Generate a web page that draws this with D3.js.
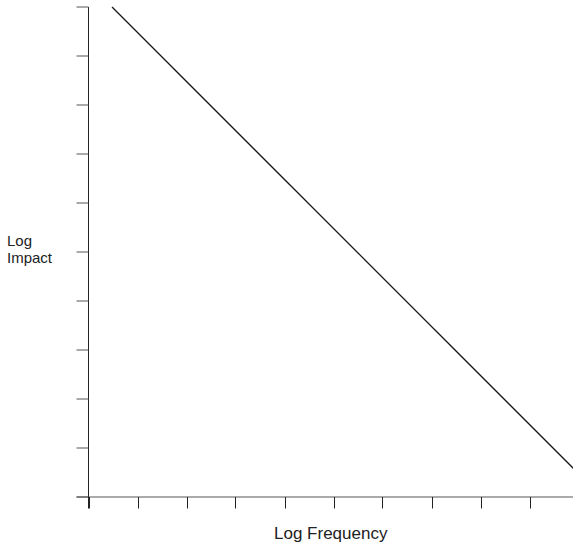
<!DOCTYPE html>
<html>
<head>
<meta charset="utf-8">
<script src="https://cdn.jsdelivr.net/npm/d3@7"></script>
<style>
  html, body { margin: 0; padding: 0; background: #fff; }
  svg { display: block; }
  text { font-family: "Liberation Sans", Arial, Helvetica, sans-serif; fill: #222; }
</style>
</head>
<body>
<svg id="chart" width="573" height="547"></svg>
<script>
// Axis tick positions (unlabelled, log units)
const xTicks = [0, 1, 2, 3, 4, 5, 6, 7, 8, 9, 10];
const yTicks = [0, 1, 2, 3, 4, 5, 6, 7, 8, 9, 10];

// Power-law relation: log impact falls as log frequency rises
const lineX = [0.48, 10.0];
const lineY = [10.0, 0.48];

const xTitle = "Log Frequency";
const yTitle = ["Log", "Impact"];

const svg = d3.select("#chart");

const x = d3.scaleLinear().domain([0, 10]).range([88.5, 578.5]);
const y = d3.scaleLinear().domain([0, 10]).range([497, 7]);

// x axis: grey baseline, dark ticks pointing down
svg.append("line")
  .attr("x1", x(0) - 12).attr("x2", 573)
  .attr("y1", y(0)).attr("y2", y(0))
  .attr("stroke", "#555").attr("stroke-width", 1);
svg.append("g").selectAll("line").data(xTicks).join("line")
  .attr("x1", d => Math.round(x(d)) + 0.5).attr("x2", d => Math.round(x(d)) + 0.5)
  .attr("y1", y(0)).attr("y2", y(0) + 11.5)
  .attr("stroke", "#222").attr("stroke-width", 1);

// y axis: dark spine, grey ticks pointing left
svg.append("line")
  .attr("x1", x(0)).attr("x2", x(0))
  .attr("y1", y(10)).attr("y2", y(0) + 11.5)
  .attr("stroke", "#222").attr("stroke-width", 1);
svg.append("g").selectAll("line").data(yTicks).join("line")
  .attr("x1", x(0) - 12).attr("x2", x(0))
  .attr("y1", d => y(d)).attr("y2", d => y(d))
  .attr("stroke", "#555").attr("stroke-width", 1);

// the trend line
svg.append("path")
  .datum(lineX.map((v, i) => [v, lineY[i]]))
  .attr("d", d3.line().x(d => x(d[0])).y(d => y(d[1])))
  .attr("fill", "none")
  .attr("stroke", "#1a1a1a")
  .attr("stroke-width", 1.3);

// titles
svg.append("text")
  .attr("x", 274).attr("y", 538.5)
  .attr("font-size", 17)
  .text(xTitle);

const yt = svg.append("text").attr("font-size", 15);
yt.selectAll("tspan").data(yTitle).join("tspan")
  .attr("x", 7).attr("y", (d, i) => 246 + i * 16.5)
  .text(d => d);
</script>
</body>
</html>
